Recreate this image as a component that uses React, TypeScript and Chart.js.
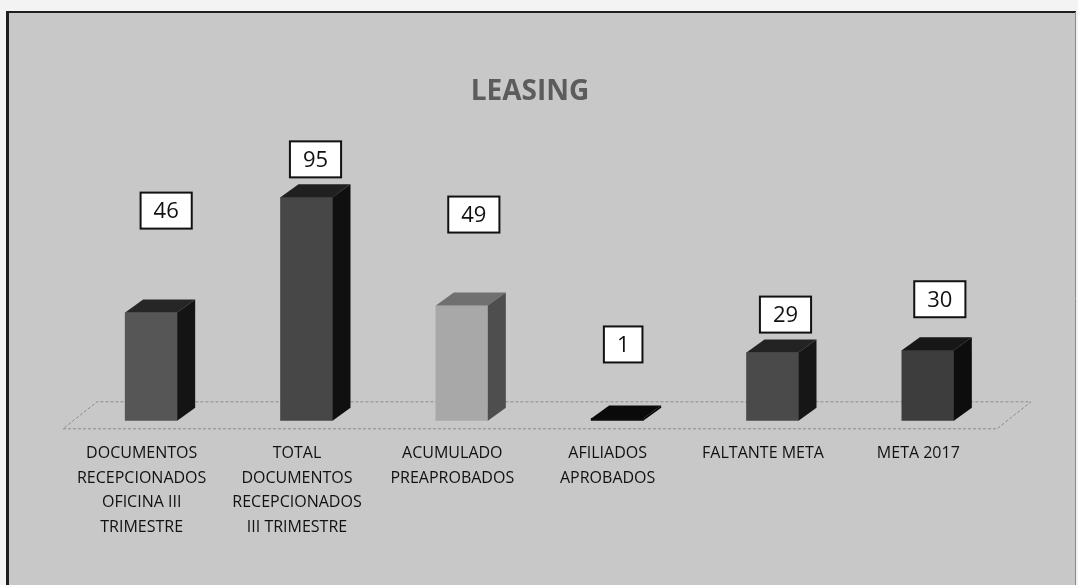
import React, { useEffect, useRef } from "react";
import { Chart, registerables } from "chart.js";

Chart.register(...registerables);

// ---------- data ----------
const TITLE = "LEASING";
const CATEGORIES: string[][] = [
  ["DOCUMENTOS", "RECEPCIONADOS", "OFICINA III", "TRIMESTRE"],
  ["TOTAL", "DOCUMENTOS", "RECEPCIONADOS", "III TRIMESTRE"],
  ["ACUMULADO", "PREAPROBADOS"],
  ["AFILIADOS", "APROBADOS"],
  ["FALTANTE META"],
  ["META 2017"],
];
const VALUES: number[] = [46, 95, 49, 1, 29, 30];

// ---------- styles ----------
const FRONT_COLORS = ["#565656", "#474747", "#a8a8a8", "#0c0c0c", "#4a4a4a", "#3d3d3d"];
const TOP_COLORS = ["#262626", "#202020", "#707070", "#0a0a0a", "#232323", "#171717"];
const SIDE_COLORS = ["#141414", "#101010", "#4e4e4e", "#050505", "#161616", "#0d0d0d"];
// label box placement relative to the bar front face (pixels)
const LABEL_DX = [15, 9, 12, 6, 13, 12];
const LABEL_LIFT = [102, 38, 91, 74, 38, 51];
const DEPTH_X = 18;
const DEPTH_Y = -13;

const W = 1078;
const H = 585;

const framePlugin = {
  id: "frame",
  beforeDraw(chart: any) {
    const ctx = chart.ctx;
    ctx.save();
    ctx.fillStyle = "#f3f3f3";
    ctx.fillRect(0, 0, W, H);
    ctx.fillStyle = "#c8c8c8";
    ctx.fillRect(7, 12, 1068, H - 12);
    ctx.strokeStyle = "#1e1e1e";
    ctx.lineWidth = 2;
    ctx.beginPath();
    ctx.moveTo(6, 12);
    ctx.lineTo(1076, 12);
    ctx.stroke();
    ctx.lineWidth = 3;
    ctx.beginPath();
    ctx.moveTo(7.5, 11);
    ctx.lineTo(7.5, H);
    ctx.stroke();
    ctx.strokeStyle = "#8a8a8a";
    ctx.lineWidth = 1;
    ctx.beginPath();
    ctx.moveTo(1075.5, 12);
    ctx.lineTo(1075.5, H);
    ctx.stroke();
    ctx.restore();
  },
  beforeDatasetsDraw(chart: any) {
    const { ctx, chartArea } = chart;
    const { left, right, bottom } = chartArea;
    ctx.save();
    ctx.strokeStyle = "#8c8c8c";
    ctx.lineWidth = 1;
    ctx.setLineDash([3, 2]);
    const fy = bottom + 8;
    const by = bottom - 19;
    ctx.beginPath();
    ctx.moveTo(left - 1, fy);
    ctx.lineTo(right + 1, fy);
    ctx.lineTo(right + 35, by);
    ctx.lineTo(left + 33, by);
    ctx.closePath();
    ctx.stroke();
    ctx.restore();
  },
};

const bar3dPlugin = {
  id: "bar3d",
  afterDatasetsDraw(chart: any) {
    const ctx = chart.ctx;
    const meta = chart.getDatasetMeta(0);
    ctx.save();
    meta.data.forEach((bar: any, i: number) => {
      const { x, y, base, width } = bar.getProps(["x", "y", "base", "width"], true);
      const l = x - width / 2;
      const r = x + width / 2;
      ctx.fillStyle = TOP_COLORS[i];
      ctx.beginPath();
      ctx.moveTo(l, y);
      ctx.lineTo(l + DEPTH_X, y + DEPTH_Y);
      ctx.lineTo(r + DEPTH_X, y + DEPTH_Y);
      ctx.lineTo(r, y);
      ctx.closePath();
      ctx.fill();
      ctx.fillStyle = SIDE_COLORS[i];
      ctx.beginPath();
      ctx.moveTo(r, y);
      ctx.lineTo(r + DEPTH_X, y + DEPTH_Y);
      ctx.lineTo(r + DEPTH_X, base + DEPTH_Y);
      ctx.lineTo(r, base);
      ctx.closePath();
      ctx.fill();
    });
    // value labels
    ctx.font = "22px 'Open Sans'";
    ctx.textAlign = "center";
    ctx.textBaseline = "middle";
    meta.data.forEach((bar: any, i: number) => {
      const { x, y } = bar.getProps(["x", "y"], true);
      const text = String(VALUES[i]);
      const tw = ctx.measureText(text).width;
      const bw = tw + 26;
      const bh = 36;
      const cx = x + LABEL_DX[i];
      const cy = y - LABEL_LIFT[i];
      ctx.fillStyle = "#ffffff";
      ctx.fillRect(cx - bw / 2, cy - bh / 2, bw, bh);
      ctx.strokeStyle = "#111111";
      ctx.lineWidth = 2;
      ctx.strokeRect(cx - bw / 2, cy - bh / 2, bw, bh);
      ctx.fillStyle = "#111111";
      ctx.fillText(text, cx, cy + 1);
    });
    ctx.restore();
  },
};

export default function App() {
  const ref = useRef<HTMLCanvasElement | null>(null);

  useEffect(() => {
    document.body.style.margin = "0";
    if (!ref.current) return;
    const shift = 9.5 / 155.3;
    const chart = new Chart(ref.current, {
      type: "bar",
      data: {
        labels: CATEGORIES,
        datasets: [
          {
            label: TITLE,
            data: VALUES.map((v, i) => ({ x: i, y: v })),
            xAxisID: "xb",
            yAxisID: "y",
            backgroundColor: FRONT_COLORS,
            borderWidth: 0,
            barThickness: 52,
          } as any,
        ],
      },
      options: {
        responsive: false,
        animation: false,
        events: [],
        layout: { padding: { left: 64, right: 82, top: 0, bottom: 25 } },
        plugins: {
          legend: { display: false },
          tooltip: { enabled: false },
          title: {
            display: true,
            text: TITLE,
            color: "#5c5c5c",
            font: { family: "'Open Sans'", size: 28, weight: "bold" },
            padding: { top: 75, bottom: 77 },
          },
        },
        scales: {
          x: {
            type: "category",
            offset: true,
            grid: { display: false, drawTicks: false },
            border: { display: false },
            ticks: {
              color: "#111111",
              font: { family: "'Open Sans'", size: 16, lineHeight: 1.55 },
              padding: 20,
              maxRotation: 0,
              minRotation: 0,
              autoSkip: false,
            },
          },
          xb: {
            type: "linear",
            axis: "x",
            display: false,
            offset: false,
            min: -0.5 - shift,
            max: 5.5 - shift,
          },
          y: {
            display: false,
            min: 0,
            max: 100,
          },
        },
      } as any,
      plugins: [framePlugin, bar3dPlugin],
    });
    return () => chart.destroy();
  }, []);

  return (
    <div style={{ width: W, height: H }}>
      <canvas ref={ref} width={W} height={H} style={{ display: "block" }} />
    </div>
  );
}
